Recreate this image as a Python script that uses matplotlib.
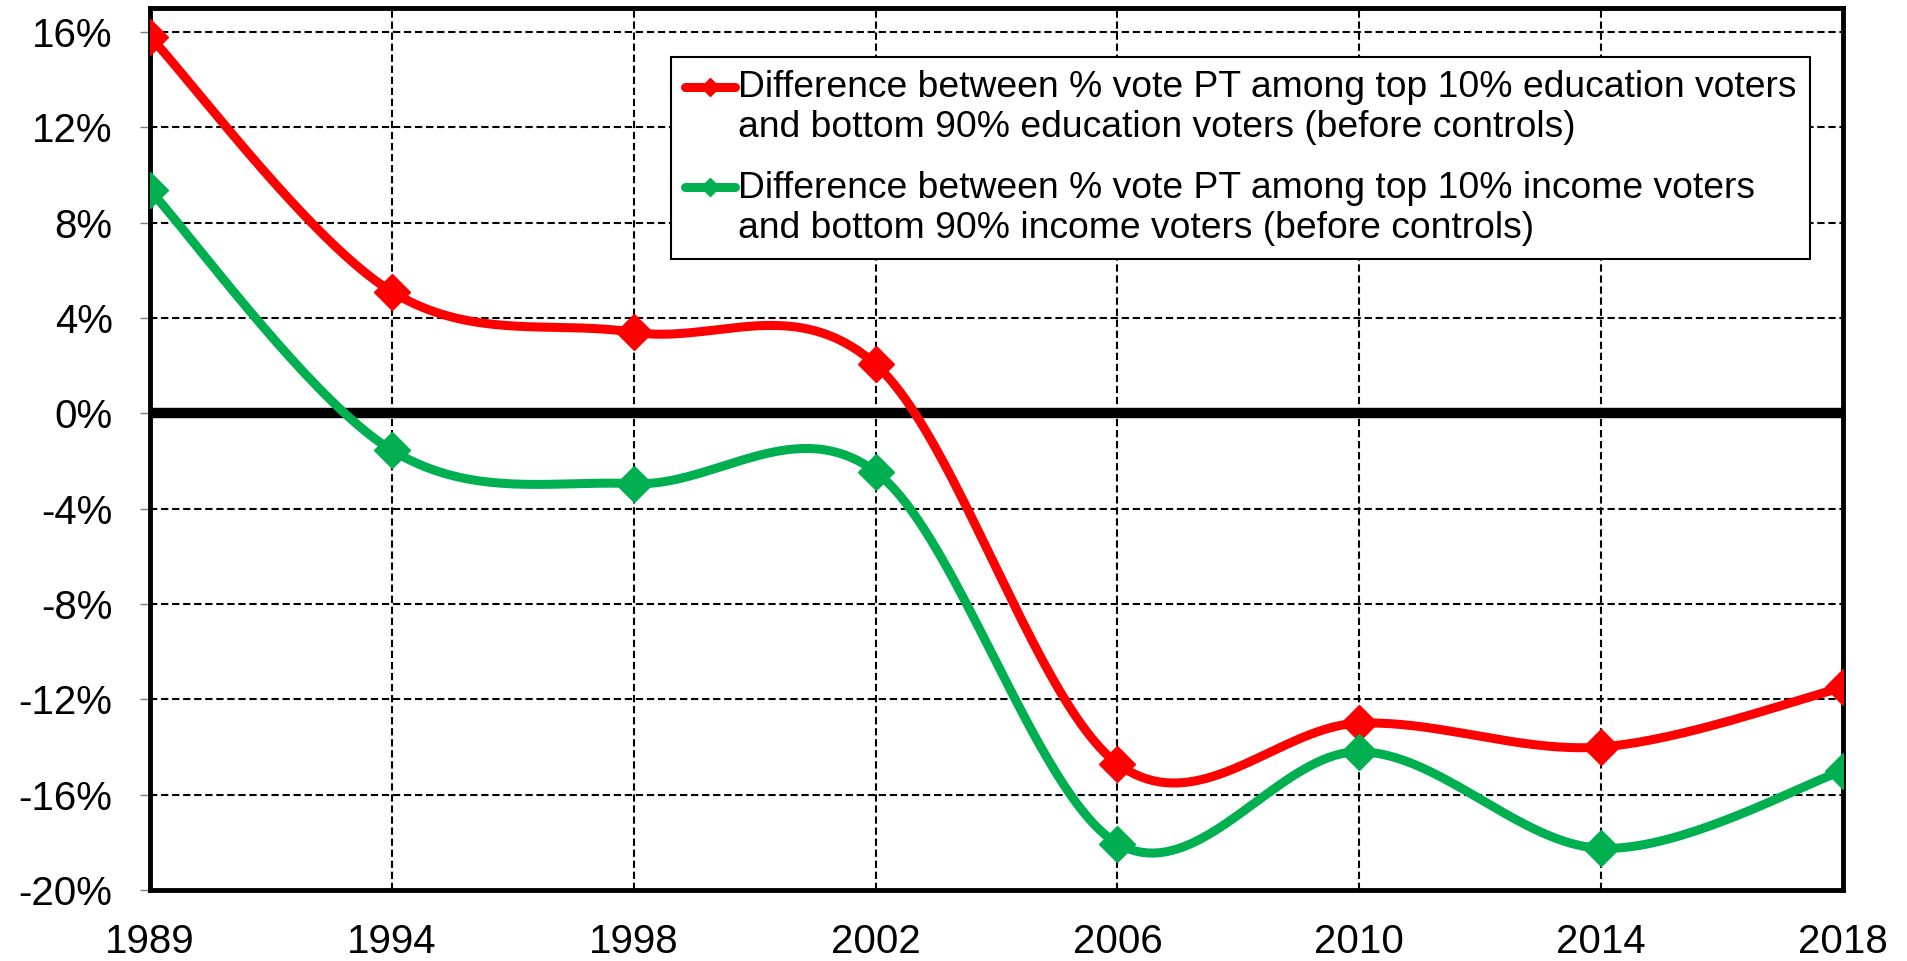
import numpy as np
import matplotlib
matplotlib.use("Agg")
from matplotlib import pyplot as plt
from matplotlib.legend_handler import HandlerLine2D

# Data (percentage points)
years = ['1989', '1994', '1998', '2002', '2006', '2010', '2014', '2018']
educ_gap = [15.8, 5.1, 3.4, 2.05, -14.7, -13.0, -14.0, -11.5]
income_gap = [9.35, -1.55, -2.95, -2.45, -18.05, -14.2, -18.25, -15.0]
y_ticks = [-20, -16, -12, -8, -4, 0, 4, 8, 12, 16]

educ_label = ("Difference between % vote PT among top 10% education voters\n"
              "and bottom 90% education voters (before controls)")
income_label = ("Difference between % vote PT among top 10% income voters\n"
                "and bottom 90% income voters (before controls)")

plt.rcParams['font.family'] = ['Liberation Sans', 'DejaVu Sans']
plt.rcParams['axes.unicode_minus'] = False


def smooth(values, n=40):
	# Excel-style smoothed line: cubic Bezier through the points,
	# control points from neighbours (Catmull-Rom, tension 1/6)
	x = np.arange(len(values), dtype=float)
	y = np.asarray(values, dtype=float)
	px = np.concatenate([[x[0]], x, [x[-1]]])
	py = np.concatenate([[y[0]], y, [y[-1]]])
	xs, ys, idx = [], [], []
	t = np.linspace(0, 1, n, endpoint=False)
	for i in range(len(values) - 1):
		p0 = np.array([px[i + 1], py[i + 1]])
		p1 = np.array([px[i + 2], py[i + 2]])
		c1 = p0 + (p1 - np.array([px[i], py[i]])) / 6
		c2 = p1 - (np.array([px[i + 3], py[i + 3]]) - p0) / 6
		idx.append(len(xs))
		for tt in t:
			b = ((1 - tt) ** 3 * p0 + 3 * (1 - tt) ** 2 * tt * c1
				 + 3 * (1 - tt) * tt ** 2 * c2 + tt ** 3 * p1)
			xs.append(b[0])
			ys.append(b[1])
	idx.append(len(xs))
	xs.append(x[-1])
	ys.append(y[-1])
	return xs, ys, idx


class FirstLineHandler(HandlerLine2D):
	# put the legend key next to the first text line, like Excel does
	def create_artists(self, legend, orig_handle, xdescent, ydescent,
					   width, height, fontsize, trans):
		arts = super().create_artists(legend, orig_handle, xdescent, ydescent,
									  width, height, fontsize, trans)
		for a in arts:
			a.set_ydata(np.asarray(a.get_ydata()) + 0.58 * fontsize)
		return arts


fig = plt.figure(figsize=(19.07, 9.61), dpi=100)
ax = fig.add_axes([0.0787, 0.0739, 0.9664 - 0.0787, 0.9915 - 0.0739])

lines = []
for values, color, label in [(educ_gap, '#FF0000', educ_label),
							 (income_gap, '#00B050', income_label)]:
	xs, ys, idx = smooth(values)
	ln, = ax.plot(xs, ys, color=color, lw=6.5, marker='D', ms=18.5,
				  markevery=idx, label=label, zorder=3, solid_capstyle='round')
	lines.append(ln)

ax.axhline(0, color='black', lw=7.5, zorder=2)

ax.set_xlim(0, len(years) - 1)
ax.set_ylim(-20, 17)
ax.set_xticks(range(len(years)))
ax.set_xticklabels(years)
ax.set_yticks(y_ticks)
ax.set_yticklabels([f'{v}%' for v in y_ticks])

ax.grid(True, color='black', lw=1.5, linestyle=(0, (3.5, 1.8)), zorder=1)
ax.set_axisbelow(True)

for s in ax.spines.values():
	s.set_linewidth(3.5)
	s.set_color('black')

ax.tick_params(axis='x', length=0, pad=24, labelsize=29)
ax.tick_params(axis='y', length=7, width=1, color='#7f7f7f', pad=20, labelsize=29)

leg = ax.legend(loc='upper right', bbox_to_anchor=(1810 / 1907, 1 - 57 / 961),
				bbox_transform=fig.transFigure, borderaxespad=0, fontsize=26.8,
				frameon=True, fancybox=False, edgecolor='black', framealpha=1,
				handlelength=1.35, handletextpad=0.1, markerscale=0.5,
				borderpad=0.35, labelspacing=0.68,
				handler_map={ln: FirstLineHandler() for ln in lines})
leg.get_frame().set_linewidth(1.5)

fig.savefig('out.png', dpi=100)
